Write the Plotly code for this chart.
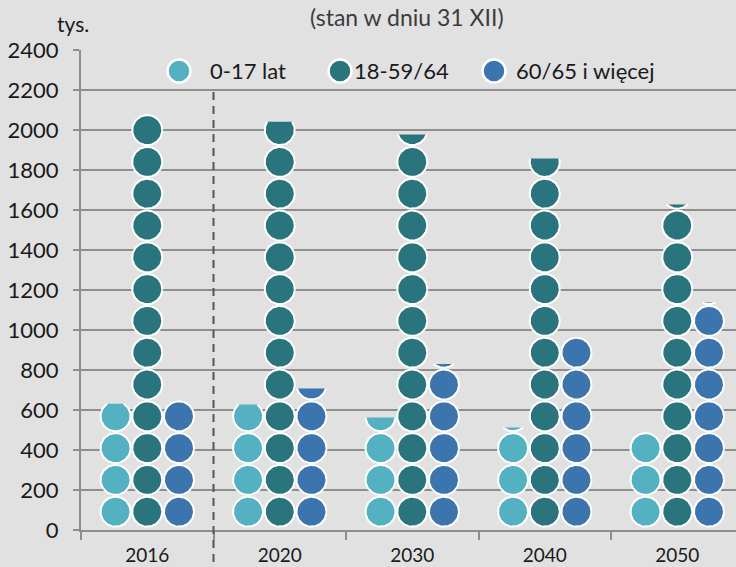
import numpy as np
import plotly.graph_objects as go

# ---------------- data (thousands, as at 31 XII) ----------------
categories = ["2016", "2020", "2030", "2040", "2050"]
series_names = ["0-17 lat", "18-59/64", "60/65 i więcej"]
age_0_17 = [636, 632, 567, 517, 490]
age_18_59_64 = [2080, 2046, 1983, 1863, 1633]
age_60_plus = [650, 713, 835, 970, 1142]
y_tick_values = [0, 200, 400, 600, 800, 1000, 1200, 1400, 1600, 1800, 2000, 2200, 2400]
y_tick_labels = [str(v) for v in y_tick_values]
unit_per_circle = 159      # thousand persons represented by one circle
stack_base = 12

colors = ["#53b1c1", "#2a747e", "#3c74ad"]
BG = "#e1e1e1"
GRID = "#8e8e8e"
FONT = "Lato, 'Noto Sans', sans-serif"

# ---------------- geometry ----------------
W, H = 736, 567
ML, MR, MT, MB = 81, 0, 50, 37
plot_w = W - ML - MR
plot_h = H - MT - MB
y_min, y_max = 0, 2400
cat_px = 132.5
x_lo = -0.5
x_hi = x_lo + plot_w / cat_px
px_per_y = plot_h / (y_max - y_min)
r_px = 15.0
offset_px = 31.7
rx = r_px / cat_px
ry = r_px / px_per_y
edge_units = 1.0 / px_per_y   # half of white outline, in data units


def circle_stack(xc, value):
    xs, ys = [], []
    level = value - edge_units
    k = 0
    while True:
        c = stack_base + k * unit_per_circle + unit_per_circle / 2
        d = level - c
        if d <= -ry:
            break
        if d >= ry:
            t = np.linspace(0, 2 * np.pi, 61)
        else:
            th0 = np.arcsin(d / ry)
            t = np.linspace(th0, -np.pi - th0, 49)
        xs += list(xc + rx * np.cos(t)) + [None]
        ys += list(c + ry * np.sin(t)) + [None]
        k += 1
    return xs, ys


fig = go.Figure()
all_series = [age_0_17, age_18_59_64, age_60_plus]
for si, (name, vals) in enumerate(zip(series_names, all_series)):
    X, Y = [], []
    for ci, v in enumerate(vals):
        xc = ci + (si - 1) * offset_px / cat_px
        xs, ys = circle_stack(xc, v)
        X += xs
        Y += ys
    fig.add_trace(go.Scatter(
        x=X, y=Y, mode="lines", fill="toself", fillcolor=colors[si],
        line=dict(color="white", width=2), name=name, showlegend=False,
        hoverinfo="skip",
    ))

# ---------------- custom legend ----------------
def px_to_paper_x(px):
    return (px - ML) / plot_w


def px_to_paper_y(py):
    return (H - MB - py) / plot_h


legend_marker_px = [179, 340, 494]
legend_text_px = [208, 352, 514]
legend_y_px = 71
shapes = []
annotations = []
for i, name in enumerate(series_names):
    shapes.append(dict(
        type="circle", xref="paper", yref="paper",
        xsizemode="pixel", ysizemode="pixel",
        xanchor=px_to_paper_x(legend_marker_px[i]), yanchor=px_to_paper_y(legend_y_px),
        x0=-11.5, x1=11.5, y0=-11.5, y1=11.5,
        fillcolor=colors[i], line=dict(color="white", width=2.5), layer="above",
    ))
    annotations.append(dict(
        xref="paper", yref="paper", x=px_to_paper_x(legend_text_px[i]),
        y=px_to_paper_y(legend_y_px), xanchor="left", yanchor="middle",
        text=name, showarrow=False, font=dict(family=FONT, size=22, color="#1a1a1a"),
    ))

# dashed separator between 2016 and forecasts
shapes.append(dict(
    type="line", xref="x", yref="paper", x0=0.5, x1=0.5,
    y0=px_to_paper_y(562), y1=(2200 - y_min) / (y_max - y_min),
    line=dict(color="#555555", width=2, dash="8px,6px"), layer="above",
))

annotations.append(dict(
    xref="paper", yref="paper", x=px_to_paper_x(55), y=px_to_paper_y(23),
    xanchor="left", yanchor="middle", text="tys.", showarrow=False,
    font=dict(family=FONT, size=21, color="#1a1a1a"),
))
annotations.append(dict(
    xref="paper", yref="paper", x=px_to_paper_x(407), y=px_to_paper_y(17),
    xanchor="center", yanchor="middle", text="(stan w dniu 31 XII)", showarrow=False,
    font=dict(family=FONT, size=23, color="#3c3c3c"),
))

fig.update_layout(
    width=W, height=H, margin=dict(l=ML, r=MR, t=MT, b=MB, autoexpand=False),
    paper_bgcolor=BG, plot_bgcolor=BG, showlegend=False,
    shapes=shapes, annotations=annotations,
    font=dict(family=FONT, color="#1a1a1a"),
)
fig.update_xaxes(
    range=[x_lo, x_hi], tickvals=list(range(len(categories))), ticktext=categories,
    ticks="", showgrid=False, zeroline=False, showline=True, linecolor=GRID, linewidth=2,
    tickfont=dict(family=FONT, size=19, color="#1a1a1a"), ticklabelstandoff=7,
    minor=dict(ticks="outside", ticklen=8, tickwidth=2, tickcolor=GRID, tick0=0.5, dtick=1, showgrid=False),
    fixedrange=True,
)
fig.update_yaxes(
    range=[y_min, y_max], tickvals=y_tick_values, ticktext=y_tick_labels,
    ticks="outside", ticklen=6, tickwidth=2, tickcolor=GRID,
    showgrid=True, gridcolor=GRID, gridwidth=2, zeroline=False,
    showline=True, linecolor=GRID, linewidth=2,
    tickfont=dict(family=FONT, size=22, color="#1a1a1a"), ticklabelstandoff=10,
    fixedrange=True,
)

fig.write_html(
    "out.html",
    config={"displayModeBar": False},
    post_script="document.body.style.margin='0';document.body.style.overflow='hidden';"
                "document.body.style.background='#e1e1e1';",
)
